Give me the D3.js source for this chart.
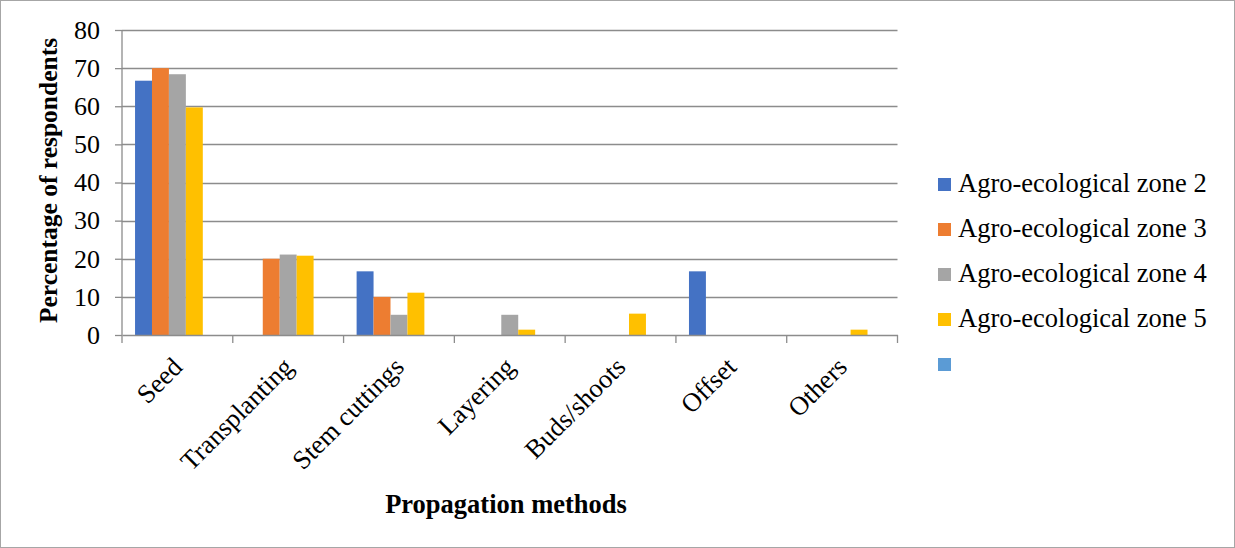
<!DOCTYPE html>
<html><head><meta charset="utf-8">
<script src="https://cdn.jsdelivr.net/npm/d3@7"></script>
<style>body{margin:0;background:#fff}svg{display:block}</style>
</head><body>
<script>
const categories = ["Seed","Transplanting","Stem cuttings","Layering","Buds/shoots","Offset","Others"];
const seriesNames = ["Agro-ecological zone 2","Agro-ecological zone 3","Agro-ecological zone 4","Agro-ecological zone 5",""];
const zone2 = [66.7, 0, 16.7, 0, 0, 16.7, 0];
const zone3 = [70.0, 20.0, 10.0, 0, 0, 0, 0];
const zone4 = [68.4, 21.1, 5.3, 5.3, 0, 0, 0];
const zone5 = [59.7, 20.8, 11.1, 1.4, 5.6, 0, 1.4];
const zoneEmpty = [null, null, null, null, null, null, null];
const yTicks = [0,10,20,30,40,50,60,70,80];
const colors = ["#4472C4","#ED7D31","#A5A5A5","#FFC000","#5B9BD5"];
const seriesValues = [zone2, zone3, zone4, zone5, zoneEmpty];

const W = 1235, H = 548;
const svg = d3.select("body").append("svg").attr("width", W).attr("height", H);
svg.append("rect").attr("x",0.5).attr("y",0.5).attr("width",W-1).attr("height",H-1)
  .attr("fill","#fff").attr("stroke","#a6a6a6");

const pLeft = 122, pRight = 897.5, pTop = 30, pBottom = 335;
const x = d3.scaleBand().domain(categories).range([pLeft, pRight]).paddingInner(0).paddingOuter(0);
const x1 = d3.scaleBand().domain(d3.range(seriesNames.length)).range([0, x.bandwidth()]).paddingOuter(0.77).paddingInner(0);
const y = d3.scaleLinear().domain([0, 80]).range([pBottom, pTop]);
const font = "'Liberation Serif','Times New Roman',serif";
const gridColor = "#8c8c8c";

// gridlines
svg.append("g").selectAll("line").data(yTicks.filter(d=>d>0)).join("line")
  .attr("x1", pLeft).attr("x2", pRight).attr("y1", d=>Math.round(y(d))+0.5).attr("y2", d=>Math.round(y(d))+0.5)
  .attr("stroke", gridColor).attr("stroke-width",1.3);

// bars
const g = svg.append("g");
seriesValues.forEach((vals, si) => {
  g.append("g").selectAll("rect").data(categories.map((c,i)=>({c, v: vals[i]})).filter(d=>d.v))
    .join("rect")
    .attr("x", d => x(d.c) + x1(si))
    .attr("width", x1.bandwidth())
    .attr("y", d => y(d.v))
    .attr("height", d => y(0) - y(d.v))
    .attr("fill", colors[si]);
});

// y axis
const yAxis = svg.append("g").attr("transform", `translate(${pLeft},0)`)
  .call(d3.axisLeft(y).tickValues(yTicks).tickSize(7).tickPadding(15));
yAxis.select(".domain").attr("stroke", gridColor).attr("stroke-width",1.3).attr("d", `M0,${pTop}V${pBottom}`);
yAxis.selectAll(".tick line").attr("stroke", gridColor).attr("stroke-width",1.3);
yAxis.selectAll(".tick text").attr("font-family", font).attr("font-size", 26).attr("fill","#000");

// x axis
const xAxis = svg.append("g").attr("transform", `translate(0,${pBottom})`)
  .call(d3.axisBottom(x).tickSize(0).tickFormat(""));
xAxis.select(".domain").attr("stroke", gridColor).attr("stroke-width",1.3);
xAxis.append("g").selectAll("line").data(categories.concat(["__end"])).join("line")
  .attr("x1", (d,i)=> i<categories.length ? x(d) : pRight).attr("x2",(d,i)=> i<categories.length ? x(d) : pRight)
  .attr("y1",0).attr("y2",8).attr("stroke", gridColor).attr("stroke-width",1.3);
xAxis.append("g").selectAll("text").data(categories).join("text")
  .attr("transform", d => `translate(${x(d)+x.bandwidth()/2},${27}) rotate(-45)`)
  .attr("text-anchor","end").attr("dy","0.35em")
  .attr("font-family", font).attr("font-size", 26.5).attr("fill","#000")
  .text(d=>d);

// axis titles
svg.append("text").attr("transform", `translate(57,${(pTop+pBottom)/2-2}) rotate(-90)`)
  .attr("text-anchor","middle").attr("font-family", font).attr("font-weight","bold").attr("font-size", 25.5)
  .text("Percentage of respondents");
svg.append("text").attr("x", 506).attr("y", 513)
  .attr("text-anchor","middle").attr("font-family", font).attr("font-weight","bold").attr("font-size", 26.5)
  .text("Propagation methods");

// legend
const legend = svg.append("g").attr("transform","translate(938,0)");
seriesNames.forEach((name, i) => {
  const cy = 184.5 + i*45;
  legend.append("rect").attr("x",0).attr("y",cy-6.5).attr("width",13).attr("height",13).attr("fill",colors[i]);
  legend.append("text").attr("x",20).attr("y",cy).attr("dy","0.29em")
    .attr("font-family", font).attr("font-size", 26.5).attr("fill","#000").text(name);
});
</script>
</body></html>
